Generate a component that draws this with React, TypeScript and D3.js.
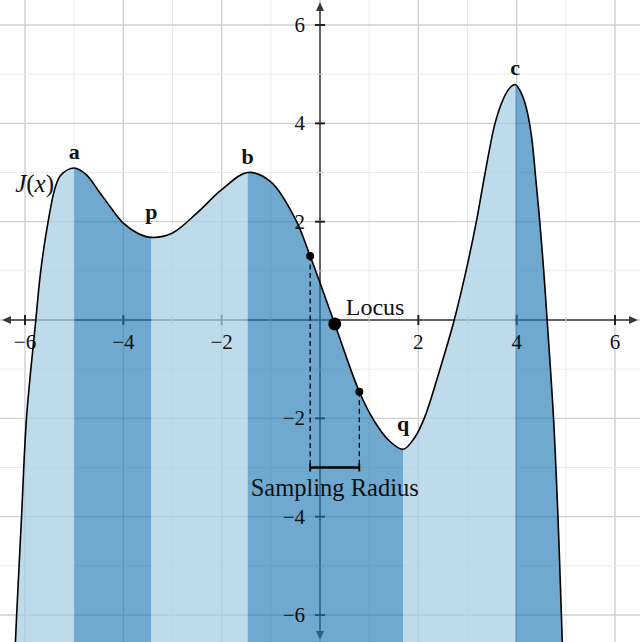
import React, { useEffect, useRef } from "react";
import * as d3 from "d3";

// J(x)
const curveX = [-6.21, -6.17, -6.07, -5.97, -5.78, -5.68, -5.53, -5.39, -5.27, -5.0, -4.75, -4.5, -4.25, -4.0, -3.7, -3.43, -3.0, -2.5, -2.0, -1.47, -1.0, -0.5, -0.2, 0.3, 0.8, 1.1, 1.4, 1.69, 1.92, 2.12, 2.44, 2.73, 2.97, 3.18, 3.36, 3.56, 3.73, 3.85, 3.97, 4.1, 4.2, 4.3, 4.4, 4.47, 4.55, 4.62, 4.75, 4.84, 4.91, 4.94];
const curveY = [-6.9, -6.0, -4.0, -2.0, 0.0, 1.0, 2.0, 2.68, 2.95, 3.09, 2.95, 2.62, 2.28, 1.97, 1.76, 1.68, 1.77, 2.18, 2.65, 3.0, 2.81, 2.05, 1.3, -0.08, -1.46, -2.05, -2.45, -2.63, -2.4, -2.0, -1.0, 0.0, 1.0, 2.0, 3.0, 4.0, 4.5, 4.71, 4.79, 4.6, 4.3, 3.75, 2.75, 2.0, 1.0, 0.0, -2.0, -4.0, -6.0, -6.9];

// critical points
const critX = [-5.0, -3.43, -1.47, 1.69, 3.97];
const critY = [3.09, 1.68, 3.0, -2.63, 4.79];
const critNames = ["a", "p", "b", "q", "c"];
const critIsMax = [true, false, true, false, true];

// locus and its sampling neighbours
const sampleX = [-0.2, 0.3, 0.8];
const sampleY = [1.3, -0.08, -1.46];
const bracketLevel = -3;

const xTicks = [-6, -4, -2, 2, 4, 6];
const yTicks = [-6, -4, -2, 2, 4, 6];

const W = 640;
const H = 642;

const App = () => {
  const svgRef = useRef<SVGSVGElement>(null);

  useEffect(() => {
    const svg = d3.select(svgRef.current);
    svg.selectAll("*").remove();

    const x = d3.scaleLinear().domain([-6, 6]).range([25, 615]);
    const y = d3.scaleLinear().domain([-6, 6]).range([615, 25]);
    const font = "'Liberation Serif', 'DejaVu Serif', serif";
    const smooth = d3.curveCatmullRom.alpha(0.5);

    const [gx0, gx1] = [Math.ceil(x.invert(0)), Math.floor(x.invert(W))];
    const [gy0, gy1] = [Math.ceil(y.invert(H)), Math.floor(y.invert(0))];

    // grid
    const grid = svg.append("g");
    d3.range(gx0, gx1 + 1).forEach((v) => {
      const major = v % 2 === 0;
      grid.append("line")
        .attr("x1", x(v)).attr("x2", x(v))
        .attr("y1", 0).attr("y2", H)
        .attr("stroke", major ? "#cfcfcf" : "#ebebeb")
        .attr("stroke-width", major ? 1.4 : 1);
    });
    d3.range(gy0, gy1 + 1).forEach((v) => {
      const major = v % 2 === 0;
      grid.append("line")
        .attr("y1", y(v)).attr("y2", y(v))
        .attr("x1", 0).attr("x2", W)
        .attr("stroke", major ? "#cfcfcf" : "#ebebeb")
        .attr("stroke-width", major ? 1.4 : 1);
    });

    // axes
    const axisColor = "#3a3a3a";
    const axes = svg.append("g");
    axes.append("line")
      .attr("x1", 6).attr("x2", W - 6)
      .attr("y1", y(0)).attr("y2", y(0))
      .attr("stroke", axisColor).attr("stroke-width", 1.5);
    axes.append("line")
      .attr("x1", x(0)).attr("x2", x(0))
      .attr("y1", 6).attr("y2", H - 6)
      .attr("stroke", axisColor).attr("stroke-width", 1.5);
    const head = (tip: [number, number], dir: [number, number]) => {
      const [tx, ty] = tip;
      const [dx, dy] = dir;
      const L = 9, hw = 4;
      const bx = tx - dx * L, by = ty - dy * L;
      return `M${tx},${ty}L${bx - dy * hw},${by + dx * hw}L${bx + dy * hw},${by - dx * hw}Z`;
    };
    [
      head([2, y(0)], [-1, 0]),
      head([W - 2, y(0)], [1, 0]),
      head([x(0), 2], [0, -1]),
      head([x(0), H - 2], [0, 1]),
    ].forEach((d) => axes.append("path").attr("d", d).attr("fill", axisColor));

    d3.range(gx0, gx1 + 1).filter((v) => v !== 0).forEach((v) => {
      const major = v % 2 === 0;
      axes.append("line")
        .attr("x1", x(v)).attr("x2", x(v))
        .attr("y1", y(0) - (major ? 5 : 3)).attr("y2", y(0) + (major ? 5 : 3))
        .attr("stroke", major ? "#222" : "#c8c8c8")
        .attr("stroke-width", major ? 2 : 1);
    });
    d3.range(gy0, gy1 + 1).filter((v) => v !== 0).forEach((v) => {
      const major = v % 2 === 0;
      axes.append("line")
        .attr("y1", y(v)).attr("y2", y(v))
        .attr("x1", x(0) - (major ? 5 : 3)).attr("x2", x(0) + (major ? 5 : 3))
        .attr("stroke", major ? "#222" : "#c8c8c8")
        .attr("stroke-width", major ? 2 : 1);
    });

    // filled bands under the curve
    const pts = curveX.map((v, i) => [v, curveY[i]] as [number, number]);
    const area = d3.area<[number, number]>()
      .x((d) => x(d[0]))
      .y0(H + 5)
      .y1((d) => y(d[1]))
      .curve(smooth);

    const edges = [x.invert(-10), ...critX, x.invert(W + 10)];
    const defs = svg.append("defs");
    const bands = svg.append("g");
    d3.range(edges.length - 1).forEach((i) => {
      const id = `band-${i}`;
      defs.append("clipPath").attr("id", id)
        .append("rect")
        .attr("x", x(edges[i])).attr("width", x(edges[i + 1]) - x(edges[i]))
        .attr("y", 0).attr("height", H);
      const dark = i % 2 === 1;
      bands.append("path")
        .datum(pts)
        .attr("d", area)
        .attr("clip-path", `url(#${id})`)
        .attr("fill", dark ? "#1f78b4" : "#a6cee3")
        .attr("fill-opacity", dark ? 0.64 : 0.74);
    });

    // tick labels
    const fmt = d3.format("");
    const labels = svg.append("g").attr("font-family", font).attr("font-size", 21).attr("fill", "#111");
    xTicks.forEach((v) => {
      labels.append("text")
        .attr("x", x(v)).attr("y", y(0) + 29)
        .attr("text-anchor", "middle")
        .text(fmt(v));
    });
    yTicks.forEach((v) => {
      labels.append("text")
        .attr("x", x(0) - 15).attr("y", y(v) + 7)
        .attr("text-anchor", "end")
        .text(fmt(v));
    });

    // the curve
    const line = d3.line<[number, number]>()
      .x((d) => x(d[0]))
      .y((d) => y(d[1]))
      .curve(smooth);
    svg.append("path")
      .datum(pts)
      .attr("d", line)
      .attr("fill", "none")
      .attr("stroke", "#000")
      .attr("stroke-width", 1.6);

    // sampling radius
    const ends = [sampleX[0], sampleX[2]];
    const endsY = [sampleY[0], sampleY[2]];
    ends.forEach((v, i) => {
      svg.append("line")
        .attr("x1", x(v)).attr("x2", x(v))
        .attr("y1", y(endsY[i])).attr("y2", y(bracketLevel))
        .attr("stroke", "#000").attr("stroke-width", 1.3)
        .attr("stroke-dasharray", "5,3.5");
      svg.append("line")
        .attr("x1", x(v)).attr("x2", x(v))
        .attr("y1", y(bracketLevel) - 4).attr("y2", y(bracketLevel) + 4)
        .attr("stroke", "#000").attr("stroke-width", 1.8);
    });
    svg.append("line")
      .attr("x1", x(ends[0])).attr("x2", x(ends[1]))
      .attr("y1", y(bracketLevel)).attr("y2", y(bracketLevel))
      .attr("stroke", "#000").attr("stroke-width", 2.4);
    svg.append("text")
      .attr("x", x(sampleX[1])).attr("y", y(bracketLevel) + 28)
      .attr("text-anchor", "middle")
      .attr("font-family", font).attr("font-size", 24.5)
      .attr("fill", "#111")
      .text("Sampling Radius");

    sampleX.forEach((v, i) => {
      svg.append("circle")
        .attr("cx", x(v)).attr("cy", y(sampleY[i]))
        .attr("r", i === 1 ? 6.5 : 4)
        .attr("fill", "#000");
    });
    svg.append("text")
      .attr("x", x(sampleX[1]) + 11).attr("y", y(sampleY[1]) - 9)
      .attr("font-family", font).attr("font-size", 24)
      .attr("fill", "#111")
      .text("Locus");

    // critical point labels
    critX.forEach((v, i) => {
      svg.append("text")
        .attr("x", x(v)).attr("y", y(critY[i]) - (critIsMax[i] ? 9 : 18))
        .attr("text-anchor", "middle")
        .attr("font-family", font).attr("font-size", 22)
        .attr("font-weight", "bold")
        .attr("fill", "#111")
        .text(critNames[i]);
    });

    // J(x)
    const jl = svg.append("text")
      .attr("x", x(-5.41)).attr("y", y(2.6))
      .attr("text-anchor", "end")
      .attr("font-family", font).attr("font-size", 25)
      .attr("fill", "#111");
    jl.append("tspan").attr("font-style", "italic").text("J");
    jl.append("tspan").text("(");
    jl.append("tspan").attr("font-style", "italic").text("x");
    jl.append("tspan").text(")");
  }, []);

  return (
    <svg
      ref={svgRef}
      width={W}
      height={H}
      style={{ position: "absolute", left: 0, top: 0, display: "block", background: "#fff" }}
    />
  );
};

export default App;
